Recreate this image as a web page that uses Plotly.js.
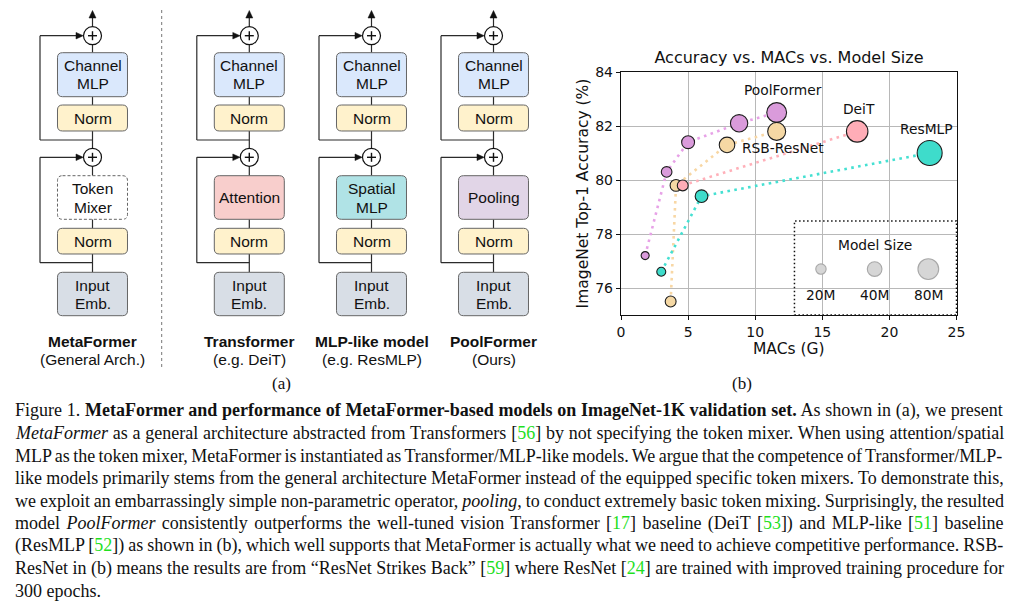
<!DOCTYPE html>
<html><head><meta charset="utf-8">
<script src="https://cdn.plot.ly/plotly-3.0.1.min.js"></script>
<style>html,body{margin:0;padding:0;background:#fff}#chart{width:1024px;height:608px}</style>
</head><body><div id="chart"></div>
<script>
// ---------------- data for panel (b) ----------------
const poolMACs   = [1.8, 3.4, 5.0, 8.8, 11.6];
const poolAcc    = [77.2, 80.3, 81.4, 82.1, 82.5];
const poolSize   = [12, 21, 31, 56, 73];
const rsbMACs    = [3.7, 4.1, 7.9, 11.6];
const rsbAcc     = [75.5, 79.8, 81.3, 81.8];
const rsbSize    = [22, 26, 45, 60];
const deitMACs   = [4.6, 17.6];
const deitAcc    = [79.8, 81.8];
const deitSize   = [22, 86];
const resmlpMACs = [3.0, 6.0, 23.0];
const resmlpAcc  = [76.6, 79.4, 81.0];
const resmlpSize = [15, 30, 116];
const seriesNames = ['PoolFormer', 'RSB-ResNet', 'DeiT', 'ResMLP'];
const legendSizes  = [20, 40, 80];
const legendLabels = ['20M', '40M', '80M'];
const xTicks = [0, 5, 10, 15, 20, 25];
const yTicks = [76, 78, 80, 82, 84];

// ---------------- texts ----------------
const captionLines = [
 [['Figure 1. ',''],['MetaFormer and performance of MetaFormer-based models on ImageNet-1K validation set.','b'],[' As shown in (a), we present','']],
 [['MetaFormer','i'],[' as a general architecture abstracted from Transformers [',''],['56','g'],['] by not specifying the token mixer. When using attention/spatial','']],
 [['MLP as the token mixer, MetaFormer is instantiated as Transformer/MLP-like models. We argue that the competence of Transformer/MLP-','']],
 [['like models primarily stems from the general architecture MetaFormer instead of the equipped specific token mixers. To demonstrate this,','']],
 [['we exploit an embarrassingly simple non-parametric operator, ',''],['pooling','i'],[', to conduct extremely basic token mixing. Surprisingly, the resulted','']],
 [['model ',''],['PoolFormer','i'],[' consistently outperforms the well-tuned vision Transformer [',''],['17','g'],['] baseline (DeiT [',''],['53','g'],[']) and MLP-like [',''],['51','g'],['] baseline','']],
 [['(ResMLP [',''],['52','g'],[']) as shown in (b), which well supports that MetaFormer is actually what we need to achieve competitive performance. RSB-','']],
 [['ResNet in (b) means the results are from \u201cResNet Strikes Back\u201d [',''],['59','g'],['] where ResNet [',''],['24','g'],['] are trained with improved training procedure for','']],
 [['300 epochs.','']]
];
const diagramColumns = [
 {cx: 92.5,  mixer: ['Token', 'Mixer'],   fill: '#ffffff', dashed: true, name: 'MetaFormer',     sub: '(General Arch.)'},
 {cx: 249.3, mixer: ['Attention'],        fill: '#f8cecc', name: 'Transformer',    sub: '(e.g. DeiT)'},
 {cx: 371.5, mixer: ['Spatial', 'MLP'],   fill: '#b0e3e6', name: 'MLP-like model', sub: '(e.g. ResMLP)'},
 {cx: 493.5, mixer: ['Pooling'],          fill: '#e1d5e7', name: 'PoolFormer',     sub: '(Ours)'}
];

// ---------------- helpers ----------------
const W = 1024, H = 608;
const X = x => x / W, Y = y => 1 - y / H;
const pt = (x, y) => X(x).toFixed(5) + ',' + Y(y).toFixed(5);
const shapes = [], annotations = [];
const STROKE = '#666666', LINE = '#2b2b2b';
const SANS = 'Liberation Sans, Arial, sans-serif';
const SERIF = 'Liberation Serif, Times New Roman, serif';
const DV = 'DejaVu Sans, sans-serif';
const DFS = 15.5;

function rrect(x0, y0, x1, y1, r, fill, dashed) {
  const path = `M${pt(x0 + r, y0)} L${pt(x1 - r, y0)} Q${pt(x1, y0)} ${pt(x1, y0 + r)} L${pt(x1, y1 - r)} Q${pt(x1, y1)} ${pt(x1 - r, y1)} L${pt(x0 + r, y1)} Q${pt(x0, y1)} ${pt(x0, y1 - r)} L${pt(x0, y0 + r)} Q${pt(x0, y0)} ${pt(x0 + r, y0)} Z`;
  shapes.push({type: 'path', xref: 'paper', yref: 'paper', path, fillcolor: fill,
    line: {color: STROKE, width: 1, dash: dashed ? '3px,2px' : 'solid'}, layer: 'above'});
}
function seg(x0, y0, x1, y1, color, width, dash) {
  shapes.push({type: 'line', xref: 'paper', yref: 'paper', x0: X(x0), y0: Y(y0), x1: X(x1), y1: Y(y1),
    line: {color: color || LINE, width: width || 1.2, dash: dash || 'solid'}, layer: 'above'});
}
function poly(pts, fill) {
  shapes.push({type: 'path', xref: 'paper', yref: 'paper', path: 'M' + pts.map(p => pt(p[0], p[1])).join(' L') + ' Z',
    fillcolor: fill, line: {color: fill, width: 0.5}, layer: 'above'});
}
function plusCircle(cx, cy, r) {
  shapes.push({type: 'circle', xref: 'paper', yref: 'paper', x0: X(cx - r), x1: X(cx + r), y0: Y(cy + r), y1: Y(cy - r),
    fillcolor: '#ffffff', line: {color: '#111', width: 1.2}, layer: 'above'});
  seg(cx - 4.5, cy, cx + 4.5, cy, '#111', 1.4);
  seg(cx, cy - 4.5, cx, cy + 4.5, '#111', 1.4);
}
function label(x, y, text, size, family, opts) {
  annotations.push(Object.assign({xref: 'paper', yref: 'paper', x: X(x), y: Y(y), text, showarrow: false,
    xanchor: 'center', yanchor: 'middle', font: {family, size, color: '#111'}}, opts || {}));
}

// ---------------- panel (a): architecture diagram ----------------
const BW = 35, R = 5;
const cyPlus1 = 35.7, cyPlus2 = 157.3, rPlus = 9;
diagramColumns.forEach(c => {
  const cx = c.cx, sx = cx - 52.5;
  seg(cx, cyPlus1 - rPlus, cx, 17);
  poly([[cx, 10.5], [cx - 3.5, 18], [cx + 3.5, 18]], '#111');
  seg(cx, cyPlus1 + rPlus, cx, 52.7);
  seg(cx, 96.7, cx, 105);
  seg(cx, 131, cx, cyPlus2 - rPlus);
  seg(cx, cyPlus2 + rPlus, cx, 175.7);
  seg(cx, 219.3, cx, 228.3);
  seg(cx, 254, cx, 272.3);
  seg(cx, 140, sx, 140); seg(sx, 140, sx, cyPlus1); seg(sx, cyPlus1, cx - 16, cyPlus1);
  poly([[cx - rPlus - 0.3, cyPlus1], [cx - 16.5, cyPlus1 - 3.3], [cx - 16.5, cyPlus1 + 3.3]], '#111');
  seg(cx, 262.7, sx, 262.7); seg(sx, 262.7, sx, cyPlus2); seg(sx, cyPlus2, cx - 16, cyPlus2);
  poly([[cx - rPlus - 0.3, cyPlus2], [cx - 16.5, cyPlus2 - 3.3], [cx - 16.5, cyPlus2 + 3.3]], '#111');
  rrect(cx - BW, 52.7, cx + BW, 96.7, R, '#dae8fc');
  rrect(cx - BW, 105, cx + BW, 131, R, '#fff2cc');
  rrect(cx - BW, 175.7, cx + BW, 219.3, R, c.fill, c.dashed);
  rrect(cx - BW, 228.3, cx + BW, 254, R, '#fff2cc');
  rrect(cx - BW, 272.3, cx + BW, 315.7, R, '#d8dee6');
  plusCircle(cx, cyPlus1, rPlus);
  plusCircle(cx, cyPlus2, rPlus);
  label(cx, 66, 'Channel', DFS, SANS); label(cx, 83.5, 'MLP', DFS, SANS);
  label(cx, 118.3, 'Norm', DFS, SANS);
  if (c.mixer.length === 2) { label(cx, 189, c.mixer[0], DFS, SANS); label(cx, 207, c.mixer[1], DFS, SANS); }
  else label(cx, 197.7, c.mixer[0], DFS, SANS);
  label(cx, 241.3, 'Norm', DFS, SANS);
  label(cx, 285.3, 'Input', DFS, SANS); label(cx, 303.3, 'Emb.', DFS, SANS);
  label(cx, 341, '<b>' + c.name + '</b>', DFS, SANS);
  label(cx, 359.5, c.sub, DFS, SANS);
});
seg(161.7, 10, 161.7, 368, '#777', 1, 'dot');

// ---------------- caption (justified) ----------------
const ctx = document.createElement('canvas').getContext('2d');
function fontFor(style, fs) { return (style === 'i' ? 'italic ' : '') + (style === 'b' ? 'bold ' : '') + fs + 'px "Liberation Serif"'; }
function lineWidth(segs, fs) { let w = 0; segs.forEach(([t, s]) => { ctx.font = fontFor(s, fs); w += ctx.measureText(t).width; }); return w; }
const CAP_X0 = 13, CAP_W = 989, CAP_Y0 = 410.5, CAP_DY = 22.5;
let sumW = 0;
for (let i = 0; i < captionLines.length - 1; i++) sumW += lineWidth(captionLines[i], 100);
const capFS = Math.round(CAP_W / (sumW / (captionLines.length - 1)) * 100 * 10) / 10;
captionLines.forEach((segs, i) => {
  const inner = segs.map(([t, s]) => s === 'b' ? '<b>' + t + '</b>' : s === 'i' ? '<i>' + t + '</i>' : s === 'g' ? '<span style="color:#1fe01f">' + t + '</span>' : t).join('');
  let html = inner;
  if (i < captionLines.length - 1) {
    const full = segs.map(s => s[0]).join('');
    const nSp = (full.match(/ /g) || []).length;
    const ws = (CAP_W - lineWidth(segs, capFS)) / nSp;
    html = '<span style="word-spacing:' + ws.toFixed(3) + 'px">' + inner + '</span>';
  }
  label(CAP_X0, CAP_Y0 + CAP_DY * i, html, capFS, SERIF, {xanchor: 'left', align: 'left'});
});
label(281, 383, '(a)', capFS - 1, SERIF);
label(742, 383, '(b)', capFS - 1, SERIF);

// ---------------- panel (b): scatter ----------------
const K = 2.32; // px diameter per sqrt(M params)
const dia = m => K * Math.sqrt(m);
const series = [
  {name: seriesNames[0], x: poolMACs,   y: poolAcc,   s: poolSize,   fill: '#da9bdb', line: '#e7a2e7'},
  {name: seriesNames[1], x: rsbMACs,    y: rsbAcc,    s: rsbSize,    fill: '#f5d8a4', line: '#f8d7a4'},
  {name: seriesNames[2], x: deitMACs,   y: deitAcc,   s: deitSize,   fill: '#ffadb7', line: '#ffb0b9'},
  {name: seriesNames[3], x: resmlpMACs, y: resmlpAcc, s: resmlpSize, fill: '#3edccb', line: '#45e0d2'}
];
const traces = [];
series.forEach(sr => traces.push({type: 'scatter', mode: 'lines', x: sr.x, y: sr.y, name: sr.name, showlegend: false,
  hoverinfo: 'skip', line: {color: sr.line, width: 2.6, dash: '2.6px,4.4px'}}));
series.forEach(sr => traces.push({type: 'scatter', mode: 'markers', x: sr.x, y: sr.y, name: sr.name, showlegend: false,
  marker: {size: sr.s.map(dia), color: sr.fill, opacity: 1, line: {color: '#1e1e1e', width: 1.1}}}));

const lab = (x, y, t) => annotations.push({xref: 'x', yref: 'y', x, y, text: t, showarrow: false,
  xanchor: 'center', yanchor: 'middle', font: {family: DV, size: 13.8, color: '#111'}});
lab(12.07, 83.33, seriesNames[0]);
lab(17.73, 82.63, seriesNames[2]);
lab(22.8, 81.9, seriesNames[3]);
lab(12.07, 81.2, seriesNames[1]);

shapes.push({type: 'rect', xref: 'x domain', yref: 'y domain', x0: 0.517, x1: 1.0, y0: 0, y1: 0.387,
  line: {color: '#111', width: 1.5, dash: '1.5px,2.5px'}, fillcolor: 'rgba(0,0,0,0)', layer: 'above'});
annotations.push({xref: 'x domain', yref: 'y domain', x: 0.758, y: 0.288, text: 'Model Size', showarrow: false,
  xanchor: 'center', yanchor: 'middle', font: {family: DV, size: 13.8, color: '#111'}});
const legX = [0.596, 0.756, 0.916];
legendSizes.forEach((m, i) => {
  const r = dia(m) / 2;
  shapes.push({type: 'circle', xref: 'x domain', yref: 'y domain', xsizemode: 'pixel', ysizemode: 'pixel',
    xanchor: legX[i], yanchor: 0.189, x0: -r, x1: r, y0: -r, y1: r,
    fillcolor: '#d6d6d6', line: {color: '#a8a8a8', width: 1.1}, layer: 'above'});
  annotations.push({xref: 'x domain', yref: 'y domain', x: legX[i], y: 0.082, text: legendLabels[i], showarrow: false,
    xanchor: 'center', yanchor: 'middle', font: {family: DV, size: 13.8, color: '#111'}});
});

const axisCommon = {ticks: 'outside', ticklen: 4, tickwidth: 1, tickcolor: '#111', showgrid: true, gridcolor: '#b8b8b8',
  gridwidth: 1, showline: true, linecolor: '#111', linewidth: 1.2, mirror: true, zeroline: false, automargin: false,
  fixedrange: true, tickfont: {family: DV, size: 14, color: '#111'}};
const layout = {
  width: W, height: H, margin: {l: 0, r: 0, t: 0, b: 0, pad: 0},
  paper_bgcolor: '#ffffff', plot_bgcolor: 'rgba(0,0,0,0)', showlegend: false,
  title: {text: 'Accuracy vs. MACs vs. Model Size', x: X(789), y: Y(57.5), xref: 'container', yref: 'container',
    xanchor: 'center', yanchor: 'middle', font: {family: DV, size: 16, color: '#111'}},
  xaxis: Object.assign({}, axisCommon, {domain: [X(621), X(956.5)], range: [0, 25], tickvals: xTicks,
    title: {text: 'MACs (G)', standoff: 4, font: {family: DV, size: 15.5, color: '#111'}}}),
  yaxis: Object.assign({}, axisCommon, {domain: [Y(315), Y(72)], range: [75, 84], tickvals: yTicks,
    title: {text: 'ImageNet Top-1 Accuracy (%)', standoff: 2, font: {family: DV, size: 15.5, color: '#111'}}}),
  shapes, annotations
};
Plotly.newPlot('chart', traces, layout, {staticPlot: true, displayModeBar: false});
</script></body></html>
